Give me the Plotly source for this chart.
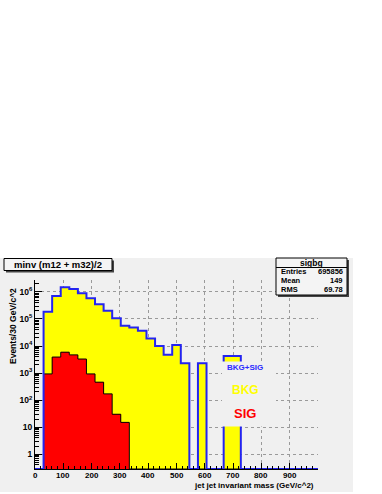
import numpy as np
import plotly.graph_objects as go

# ---------------- data ----------------
x_min, x_max, n_bins = 0, 1000, 33
sigbg = [0, 1.86e5, 7.1e5, 1.48e6, 1.28e6, 8.9e5, 5.8e5, 3.5e5, 2.0e5, 1.07e5,
         5.6e4, 4.8e4, 3.7e4, 1.9e4, 1.0e4, 4.7e3, 1.1e4, 2.3e3, 0, 2.3e3,
         0, 0, 4.3e3, 4.3e3, 0, 0, 0, 0, 0, 0, 0, 0, 0]
bkg = [0, 1.85e5, 7.06e5, 1.47e6, 1.275e6, 8.87e5, 5.79e5, 3.5e5, 2.0e5, 1.07e5,
       5.6e4, 4.8e4, 3.7e4, 1.9e4, 1.0e4, 4.7e3, 1.1e4, 2.3e3, 0, 2.3e3,
       0, 0, 4.3e3, 4.3e3, 0, 0, 0, 0, 0, 0, 0, 0, 0]
sig = [0, 930, 3900, 5900, 4700, 3300, 930, 460, 170, 30,
       15, 0, 0, 0, 0, 0, 0, 0, 0, 0,
       0, 0, 0, 0, 0, 0, 0, 0, 0, 0, 0, 0, 0]
x_ticks = [0, 100, 200, 300, 400, 500, 600, 700, 800, 900]
y_ticks = [1, 10, 100, 1e3, 1e4, 1e5, 1e6]
y_tick_text = ["1", "10", "10<sup>2</sup>", "10<sup>3</sup>", "10<sup>4</sup>",
               "10<sup>5</sup>", "10<sup>6</sup>"]
stats_name = "sigbg"
stats_rows = [("Entries", "695856"), ("Mean", "149"), ("RMS", "69.78")]
legend_items = [("BKG+SIG", "#2a2aff", 8), ("BKG", "#ffff00", 12), ("SIG", "#ff0000", 13)]
title_text = "minv (m12 + m32)/2"
x_title = "jet jet invariant mass (GeV/c^2)"
y_title = "Events/30 GeV/c^2"

# ---------------- geometry ----------------
WIDTH, HEIGHT = 382, 494
L, R, T, B = 35, 64, 280, 25
PW, PH = WIDTH - L - R, HEIGHT - T - B
y_range = [-0.547, 6.44]
y_floor = 10 ** y_range[0]
BG = "#f0f0f0"
FONT = "Liberation Sans, Arial, sans-serif"


def PX(x):
    return (x - L) / PW


def PY(y):
    return (HEIGHT - B - y) / PH


edges = np.linspace(x_min, x_max, n_bins + 1)
centers = (edges[:-1] + edges[1:]) / 2
bw = edges[1] - edges[0]


def step(vals):
    v = [val if val > 0 else y_floor for val in vals]
    return list(edges), v + [v[-1]]


fig = go.Figure()

fig.add_trace(go.Bar(x=centers, y=[v if v > 0 else None for v in bkg], width=bw,
                     marker=dict(color="#ffff00", line=dict(width=0)), showlegend=False))
fig.add_trace(go.Bar(x=centers, y=[v if v > 0 else None for v in sig], width=bw,
                     marker=dict(color="#ff0000", line=dict(width=0)), showlegend=False))
sx, sy = step(sig)
fig.add_trace(go.Scatter(x=sx, y=sy, mode="lines", line=dict(shape="hv", color="black", width=1),
                         showlegend=False))
bx, by = step(sigbg)
fig.add_trace(go.Scatter(x=bx, y=by, mode="lines", line=dict(shape="hv", color="#2424f0", width=2),
                         showlegend=False))

shapes = []
# canvas background
shapes.append(dict(type="rect", xref="paper", yref="paper", x0=PX(0), x1=PX(353), y0=PY(258), y1=PY(492),
                   fillcolor=BG, line=dict(width=0), layer="below"))
# title box with shadow
shapes.append(dict(type="rect", xref="paper", yref="paper", x0=PX(6), x1=PX(114), y0=PY(260.5), y1=PY(272.5),
                   fillcolor="#444444", line=dict(width=0), layer="above"))
shapes.append(dict(type="rect", xref="paper", yref="paper", x0=PX(4), x1=PX(112), y0=PY(258.5), y1=PY(270.5),
                   fillcolor="#f4f4f4", line=dict(width=1, color="black"), layer="above"))
# stats box with shadow
shapes.append(dict(type="rect", xref="paper", yref="paper", x0=PX(278), x1=PX(349), y0=PY(260), y1=PY(297),
                   fillcolor="#444444", line=dict(width=0), layer="above"))
shapes.append(dict(type="rect", xref="paper", yref="paper", x0=PX(276), x1=PX(347), y0=PY(258), y1=PY(295),
                   fillcolor="#f4f4f4", line=dict(width=1, color="black"), layer="above"))
shapes.append(dict(type="line", xref="paper", yref="paper", x0=PX(276), x1=PX(347), y0=PY(267.5), y1=PY(267.5),
                   line=dict(width=1, color="black"), layer="above"))
# legend box (same fill as pad, no border)
shapes.append(dict(type="rect", xref="paper", yref="paper", x0=PX(222), x1=PX(276), y0=PY(361.5), y1=PY(426.5),
                   fillcolor=BG, line=dict(width=0), layer="above"))

ann = []
ann.append(dict(text=title_text, xref="paper", yref="paper", x=PX(58), y=PY(264.5), showarrow=False,
                xanchor="center", yanchor="middle", font=dict(family=FONT, size=9.5, color="black", weight="bold")))
ann.append(dict(text=stats_name, xref="paper", yref="paper", x=PX(311.5), y=PY(262.5), showarrow=False,
                xanchor="center", yanchor="middle", font=dict(family=FONT, size=8.5, color="black", weight="bold")))
for i, (k, v) in enumerate(stats_rows):
    yy = 271.5 + i * 8.8
    ann.append(dict(text=k, xref="paper", yref="paper", x=PX(279), y=PY(yy), showarrow=False,
                    xanchor="left", yanchor="middle", font=dict(family=FONT, size=7.5, color="black", weight="bold")))
    ann.append(dict(text=v, xref="paper", yref="paper", x=PX(344.5), y=PY(yy), showarrow=False,
                    xanchor="right", yanchor="middle", font=dict(family=FONT, size=7.5, color="black", weight="bold")))
for (txt, col, sz), yy in zip(legend_items, [367, 390, 413]):
    ann.append(dict(text=txt, xref="paper", yref="paper", x=PX(245), y=PY(yy), showarrow=False,
                    xanchor="center", yanchor="middle", font=dict(family=FONT, size=sz, color=col, weight="bold")))
# x tick labels, placed at the x-axis tick values
for t in x_ticks:
    ann.append(dict(text=str(t), xref="x", yref="paper", x=t, y=PY(475.5), showarrow=False,
                    xanchor="center", yanchor="middle", font=dict(family=FONT, size=8, color="black", weight="bold")))
ann.append(dict(text=x_title, xref="paper", yref="paper", x=PX(316), y=PY(485.5), showarrow=False,
                xanchor="right", yanchor="middle", font=dict(family=FONT, size=8, color="black", weight="bold")))
ann.append(dict(text=y_title, xref="paper", yref="paper", x=PX(13), y=PY(326), showarrow=False, textangle=-90,
                xanchor="center", yanchor="middle", font=dict(family=FONT, size=8.5, color="black", weight="bold")))

fig.update_layout(
    width=WIDTH, height=HEIGHT,
    margin=dict(l=L, r=R, t=T, b=B, pad=0),
    paper_bgcolor="white", plot_bgcolor=BG,
    barmode="overlay", bargap=0,
    shapes=shapes, annotations=ann,
    showlegend=False,
    xaxis=dict(range=[x_min, x_max], tickvals=x_ticks, ticks="inside", ticklen=6, tickcolor="black",
               showticklabels=False, automargin=False,
               showline=True, linecolor="black", linewidth=1, zeroline=False,
               showgrid=True, gridcolor="#9a9a9a", griddash="dot", gridwidth=1,
               minor=dict(dtick=20, ticks="inside", ticklen=3, tickcolor="black", showgrid=False)),
    yaxis=dict(type="log", range=y_range, tickvals=y_ticks, ticktext=y_tick_text, ticks="inside",
               ticklen=7, tickcolor="black", showline=True, linecolor="black", linewidth=1, zeroline=False,
               showgrid=True, gridcolor="#9a9a9a", griddash="dot", gridwidth=1, automargin=False,
               tickfont=dict(family=FONT, size=8.5, color="black", weight="bold"),
               minor=dict(dtick="D1", ticks="inside", ticklen=4, tickcolor="black", showgrid=False)),
)

fig.write_html("out.html", config={"displayModeBar": False},
               post_script="document.body.style.margin='0';document.body.style.overflow='hidden';")
